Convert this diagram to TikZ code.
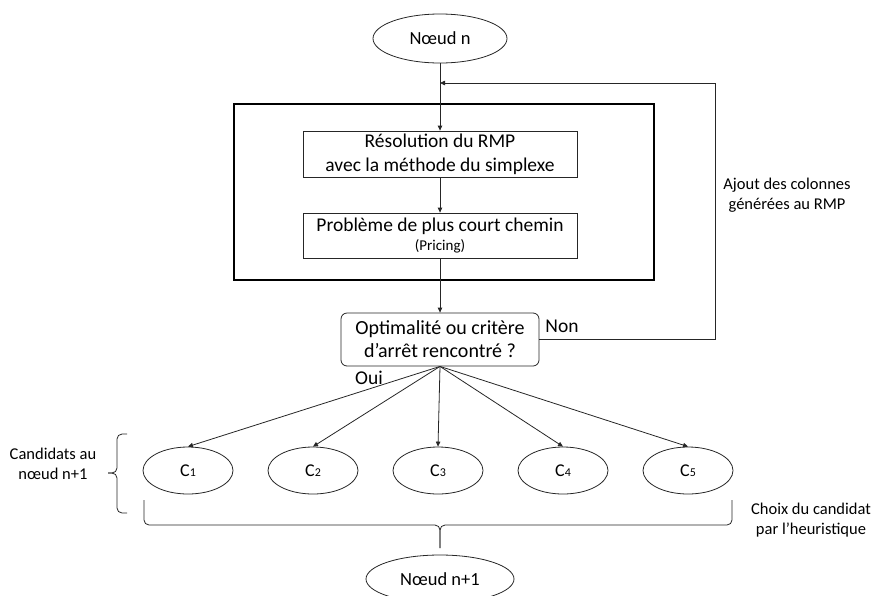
\documentclass[tikz,border=0pt]{standalone}
\usepackage{fontspec}
\setmainfont{Carlito}
\usetikzlibrary{shapes.geometric,arrows.meta}
\begin{document}
\begin{tikzpicture}[x=1pt,y=-1pt,
  line width=0.8pt,
  every node/.style={font=\fontsize{19.5}{24}\selectfont},
  link/.style={draw=black!85, line width=0.8pt},
  arr/.style={link, -{Triangle[length=5pt,width=4.5pt]}},
  oval/.style={draw=black!85, ellipse, inner sep=0pt},
  stepbox/.style={draw=black!85, rectangle, minimum width=274pt, align=center, inner sep=0pt},
  decision/.style={draw=black!85, rectangle, rounded corners=6pt, minimum width=198pt, minimum height=53pt, align=center, inner sep=0pt, font=\fontsize{20}{23}\selectfont},
  side/.style={font=\fontsize{16.5}{20}\selectfont, align=center, inner sep=0pt},
  cand/.style={oval, minimum width=90pt, minimum height=47pt, font=\fontsize{18}{20}\selectfont},
  brace/.style={draw=black!85, line width=0.8pt, rounded corners=5pt}
]
\clip (0,0) rectangle (872,595);

% start and end nodes
\node[oval, minimum width=134pt, minimum height=49pt, font=\fontsize{18.5}{22}\selectfont] (start) at (440,38.5) {Nœud n};
\node[oval, minimum width=148pt, minimum height=48pt, font=\fontsize{18.5}{22}\selectfont] (next) at (440,579) {Nœud n+1};

% column generation block
\draw[line width=1.6pt] (234,104) rectangle (654,280);
\node[stepbox, minimum height=46pt] (rmp) at (440,154)
  {Résolution du RMP\\avec la méthode du simplexe};
\node[stepbox, minimum height=45pt] (pricing) at (440,235.5)
  {Problème de plus court chemin\\[-5pt]{\fontsize{15}{16}\selectfont (Pricing)}};

% stopping test
\node[decision] (test) at (440,339.5)
  {Optimalité ou critère\\d’arrêt rencontré ?};
\node[inner sep=0pt, anchor=west] (non) at (545,326) {Non};
\node[inner sep=0pt] (oui) at (369,378) {Oui};

% candidates
\foreach \i/\x in {1/188,2/313,3/438,4/563,5/688}{
  \node[cand] (c\i) at (\x,470.5) {C{\fontsize{12}{13}\selectfont\i}};
}

% side labels
\node[side] (ajout) at (787,195) {Ajout des colonnes\\générées au RMP};
\node[side] (cands) at (53,463.5) {Candidats au\\nœud n+1};
\node[side] (choix) at (811,520.5) {Choix du candidat\\par l’heuristique};

% connectors
\coordinate (loop) at (440,83);
\coordinate (corner) at (715,83);
\draw[link] (start.south) -- (loop);
\draw[arr] (loop) -- (rmp.north);
\draw[arr] (rmp.south) -- (pricing.north);
\draw[arr] (pricing.south) -- (test.north);
\draw[arr] (test.east) -| (corner) -- (loop);
\foreach \i in {1,...,5}{
  \draw[arr] (test.south) -- (c\i.north);
}

% braces
\draw[brace] (127,434) -| (117,473) -- (108,473);
\draw[brace] (108,473) -- (117,473) |- (127,513);
\draw[brace] (144,500) |- (440,525) -- (440,548);
\draw[brace] (440,548) -- (440,525) -| (732,500);
\end{tikzpicture}
\end{document}
